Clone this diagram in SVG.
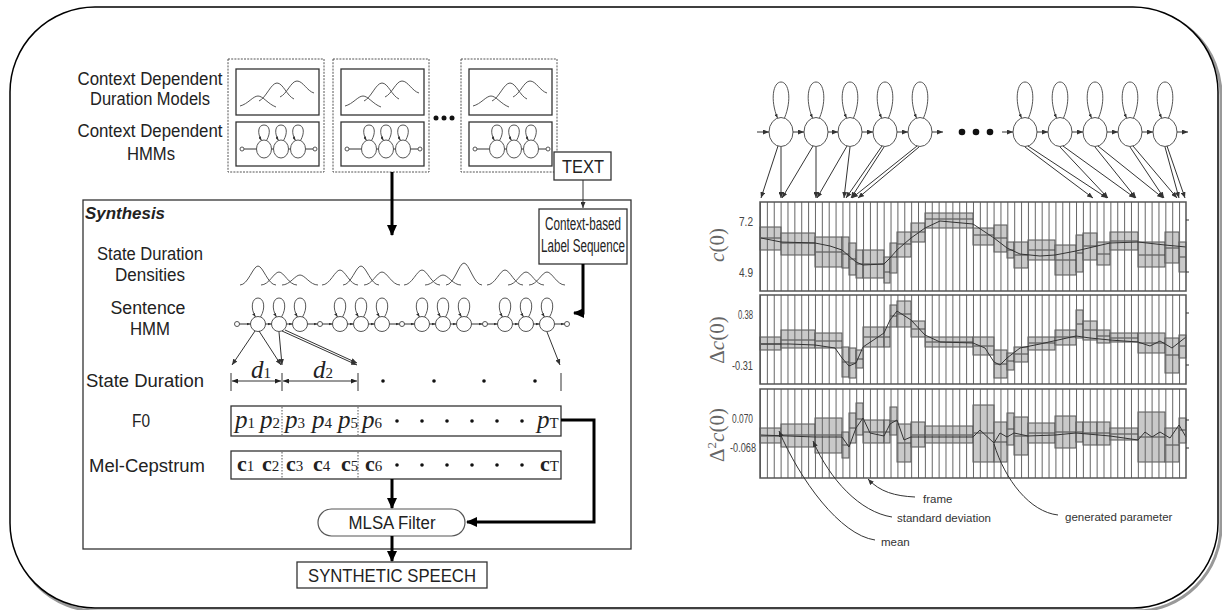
<svg xmlns="http://www.w3.org/2000/svg" width="1222" height="610" viewBox="0 0 1222 610">
<style>
.lab{font-family:"Liberation Sans",Arial,sans-serif;font-size:17.5px;fill:#222}
.syn{font-family:"Liberation Sans",Arial,sans-serif;font-size:17px;font-weight:bold;font-style:italic;fill:#222}
.mi{font-family:"Liberation Serif","Times New Roman",serif;font-style:italic;font-size:25px;fill:#222}
.mb{font-family:"Liberation Serif","Times New Roman",serif;font-weight:bold;font-size:22px;fill:#222}
.sub{font-style:normal;font-weight:normal;font-size:15px}
.tk{font-family:"Liberation Sans",Arial,sans-serif;font-size:12px;fill:#444}
.an{font-family:"Liberation Sans",Arial,sans-serif;font-size:11.5px;fill:#333}
.ax{font-family:"Liberation Serif","Times New Roman",serif;font-size:21px;fill:#666}
.thin{stroke:#333;stroke-width:1;fill:none}
.thick{stroke:#000;stroke-width:3;fill:none}
.box{fill:#fff;stroke:#333;stroke-width:1.3}
.dash{fill:none;stroke:#555;stroke-width:1;stroke-dasharray:2 1.2}
.node{fill:#fff;stroke:#555;stroke-width:1}
.loop{fill:none;stroke:#555;stroke-width:1}
.curve{fill:none;stroke:#555;stroke-width:1}
.sd{fill:#c9c9c9;stroke:#555;stroke-width:1}
.mean{stroke:#444;stroke-width:1;fill:none}
.gen{stroke:#333;stroke-width:1;fill:none;stroke-linejoin:round}
.frames{stroke:#666;fill:none;stroke-dasharray:1 5.87}
.panel{fill:none;stroke:#555;stroke-width:1.5}
.dot{fill:#111}
</style>
<defs>
<marker id="ms" viewBox="0 0 6 5" markerWidth="6" markerHeight="5" refX="6" refY="2.5" orient="auto" markerUnits="userSpaceOnUse"><path d="M0,0L6,2.5L0,5z" fill="#333"/></marker>
<marker id="md" viewBox="0 0 6 5" markerWidth="6" markerHeight="5" refX="6" refY="2.5" orient="auto-start-reverse" markerUnits="userSpaceOnUse"><path d="M0,0L6,2.5L0,5z" fill="#222"/></marker>
<marker id="mt" viewBox="0 0 4 3" markerWidth="4" markerHeight="3" refX="4" refY="1.5" orient="auto" markerUnits="userSpaceOnUse"><path d="M0,0L4,1.5L0,3z" fill="#333"/></marker>
<marker id="mb" viewBox="0 0 11 10" markerWidth="11" markerHeight="10" refX="10" refY="5" orient="auto" markerUnits="userSpaceOnUse"><path d="M0,0L11,5L0,10z" fill="#000"/></marker>
<g id="st1"><ellipse rx="7.5" ry="9" class="node"/><path class="loop" d="M2.5,-8.5C7,-16 6,-24 0,-24C-6,-24 -7,-16 -2.5,-8.5" marker-end="url(#mt)"/></g>
<g id="st2"><circle r="7.5" class="node"/><path class="loop" d="M2.5,-7C8,-16 6,-26 0,-26C-6,-26 -8,-16 -2.5,-7" marker-end="url(#mt)"/></g>
<g id="st3"><ellipse rx="12" ry="14.5" class="node"/><path class="loop" d="M3.5,-14C11,-32 8,-50 0,-50C-8,-50 -11,-32 -3.5,-14" marker-end="url(#mt)"/></g>
<g id="model">
<rect class="dash" x="228" y="59" width="96" height="113"/>
<rect class="box" x="236" y="69" width="83" height="46"/>
<path class="curve" d="M240,106C248,104 253,96 258,96C263,96 268,104 276,107"/>
<path class="curve" d="M259,101C266,98 271,83 277,83C283,83 287,96 294,99"/>
<path class="curve" d="M280,97C287,94 291,81 297,81C303,81 307,91 314,93"/>
<rect class="box" x="236" y="122" width="83" height="44"/>
<line class="thin" x1="244" y1="149" x2="313" y2="149"/>
<circle cx="242" cy="149" r="2" class="node"/><circle cx="315" cy="149" r="2" class="node"/>
<use href="#st1" x="264" y="149"/><use href="#st1" x="281" y="149"/><use href="#st1" x="298" y="149"/>
</g>
</defs>

<rect x="0" y="0" width="1222" height="610" fill="#fff"/>
<rect x="13" y="10" width="1208" height="601" rx="85" fill="none" stroke="#999" stroke-width="3"/>
<rect x="10" y="7" width="1208" height="601" rx="85" fill="#fff" stroke="#000" stroke-width="1.5"/>

<g id="labels-models">
<text class="lab" x="150" y="85" text-anchor="middle" textLength="145" lengthAdjust="spacingAndGlyphs">Context Dependent</text>
<text class="lab" x="150" y="105" text-anchor="middle" textLength="120" lengthAdjust="spacingAndGlyphs">Duration Models</text>
<text class="lab" x="150" y="137" text-anchor="middle" textLength="145" lengthAdjust="spacingAndGlyphs">Context Dependent</text>
<text class="lab" x="151" y="160" text-anchor="middle" textLength="48" lengthAdjust="spacingAndGlyphs">HMMs</text>
</g>
<g id="model-1"><use href="#model"/></g>
<g id="model-2"><use href="#model" x="105"/></g>
<g id="model-3"><use href="#model" x="233"/></g>
<g id="model-ellipsis"><circle class="dot" cx="436" cy="118" r="2.5"/><circle class="dot" cx="444" cy="118" r="2.5"/><circle class="dot" cx="452" cy="118" r="2.5"/></g>

<g id="text-node"><rect class="box" x="554" y="152" width="57" height="28"/>
<text class="lab" x="583" y="173" text-anchor="middle" textLength="42" lengthAdjust="spacingAndGlyphs">TEXT</text></g>

<g id="synthesis">
<rect x="83" y="200" width="548" height="349" fill="none" stroke="#333" stroke-width="1.3"/>
<text class="syn" x="85" y="219" textLength="80" lengthAdjust="spacingAndGlyphs">Synthesis</text>
<text class="lab" x="150" y="260" text-anchor="middle" textLength="106" lengthAdjust="spacingAndGlyphs">State Duration</text>
<text class="lab" x="150" y="281" text-anchor="middle" textLength="70" lengthAdjust="spacingAndGlyphs">Densities</text>
<text class="lab" x="148" y="314" text-anchor="middle" textLength="75" lengthAdjust="spacingAndGlyphs">Sentence</text>
<text class="lab" x="150" y="335" text-anchor="middle" textLength="40" lengthAdjust="spacingAndGlyphs">HMM</text>
<text class="lab" x="145" y="387" text-anchor="middle" textLength="118" lengthAdjust="spacingAndGlyphs">State Duration</text>
<text class="lab" x="141" y="427" text-anchor="middle" textLength="18" lengthAdjust="spacingAndGlyphs">F0</text>
<text class="lab" x="147" y="472" text-anchor="middle" textLength="116" lengthAdjust="spacingAndGlyphs">Mel-Cepstrum</text>
</g>

<g id="label-sequence"><rect class="box" x="539" y="209" width="88" height="55"/>
<text class="lab" x="583" y="230" text-anchor="middle" textLength="76" lengthAdjust="spacingAndGlyphs">Context-based</text>
<text class="lab" x="583" y="252" text-anchor="middle" textLength="84" lengthAdjust="spacingAndGlyphs">Label Sequence</text></g>

<g id="densities">
<path class="curve" d="M240,285C248,285 253,266 258,266C263,266 268,285 276,285"/>
<path class="curve" d="M261,285C269,285 274,272 279,272C284,272 289,285 297,285"/>
<path class="curve" d="M282,285C290,285 295,275 300,275C305,275 310,285 318,285"/>
<path class="curve" d="M322,285C330,285 335,270 340,270C345,270 350,285 358,285"/>
<path class="curve" d="M343,285C351,285 356,266 361,266C366,266 371,285 379,285"/>
<path class="curve" d="M364,285C372,285 377,272 382,272C387,272 392,285 400,285"/>
<path class="curve" d="M404,285C412,285 417,270 422,270C427,270 432,285 440,285"/>
<path class="curve" d="M425,285C433,285 438,275 443,275C448,275 453,285 461,285"/>
<path class="curve" d="M446,285C454,285 459,263 464,263C469,263 474,285 482,285"/>
<path class="curve" d="M487,285C495,285 500,270 505,270C510,270 515,285 523,285"/>
<path class="curve" d="M508,285C516,285 521,272 526,272C531,272 536,285 544,285"/>
<path class="curve" d="M529,285C537,285 542,272 547,272C552,272 557,285 565,285"/>
</g>

<g id="sentence-hmm">
<circle class="node" cx="237" cy="324" r="2.5"/><circle class="node" cx="320" cy="324" r="2.5"/><circle class="node" cx="402" cy="324" r="2.5"/><circle class="node" cx="485" cy="324" r="2.5"/><circle class="node" cx="567" cy="324" r="2.5"/>
<use href="#st2" x="258" y="324"/><use href="#st2" x="279" y="324"/><use href="#st2" x="300" y="324"/>
<use href="#st2" x="340" y="324"/><use href="#st2" x="361" y="324"/><use href="#st2" x="382" y="324"/>
<use href="#st2" x="422" y="324"/><use href="#st2" x="443" y="324"/><use href="#st2" x="464" y="324"/>
<use href="#st2" x="505" y="324"/><use href="#st2" x="526" y="324"/><use href="#st2" x="547" y="324"/>
</g>

<g id="duration-row">
<path class="thin" d="M231,373V391M282,373V391M358,373V391M561,373V391"/>
<text class="mi" x="251" y="378" font-size="22">d<tspan class="sub" font-size="14">1</tspan></text>
<text class="mi" x="313" y="378" font-size="22">d<tspan class="sub" font-size="14">2</tspan></text>
<circle class="dot" cx="383" cy="381" r="1.8"/><circle class="dot" cx="434" cy="381" r="1.8"/><circle class="dot" cx="484" cy="381" r="1.8"/><circle class="dot" cx="535" cy="381" r="1.8"/>
</g>

<g id="f0-row">
<rect class="box" x="231" y="406" width="330" height="30"/>
<path d="M282,407V435M358,407V435" stroke="#555" stroke-dasharray="1.5 1.5"/>
<text class="mi" x="235" y="428">p<tspan class="sub">1</tspan></text>
<text class="mi" x="260" y="428">p<tspan class="sub">2</tspan></text>
<text class="mi" x="285" y="428">p<tspan class="sub">3</tspan></text>
<text class="mi" x="312" y="428">p<tspan class="sub">4</tspan></text>
<text class="mi" x="338" y="428">p<tspan class="sub">5</tspan></text>
<text class="mi" x="362" y="428">p<tspan class="sub">6</tspan></text>
<text class="mi" x="537" y="428">p<tspan class="sub">T</tspan></text>
<circle class="dot" cx="397" cy="421" r="1.8"/><circle class="dot" cx="422" cy="421" r="1.8"/><circle class="dot" cx="447" cy="421" r="1.8"/><circle class="dot" cx="472" cy="421" r="1.8"/><circle class="dot" cx="497" cy="421" r="1.8"/><circle class="dot" cx="522" cy="421" r="1.8"/>
</g>

<g id="mcep-row">
<rect class="box" x="231" y="451" width="330" height="28"/>
<path d="M282,452V478M358,452V478" stroke="#555" stroke-dasharray="1.5 1.5"/>
<text class="mb" x="237" y="471">c<tspan class="sub" font-size="14">1</tspan></text>
<text class="mb" x="262" y="471">c<tspan class="sub" font-size="14">2</tspan></text>
<text class="mb" x="286" y="471">c<tspan class="sub" font-size="14">3</tspan></text>
<text class="mb" x="313" y="471">c<tspan class="sub" font-size="14">4</tspan></text>
<text class="mb" x="341" y="471">c<tspan class="sub" font-size="14">5</tspan></text>
<text class="mb" x="365" y="471">c<tspan class="sub" font-size="14">6</tspan></text>
<text class="mb" x="540" y="471">c<tspan class="sub" font-size="14">T</tspan></text>
<circle class="dot" cx="397" cy="465" r="1.8"/><circle class="dot" cx="422" cy="465" r="1.8"/><circle class="dot" cx="447" cy="465" r="1.8"/><circle class="dot" cx="472" cy="465" r="1.8"/><circle class="dot" cx="497" cy="465" r="1.8"/><circle class="dot" cx="522" cy="465" r="1.8"/>
</g>

<g id="mlsa"><rect x="318" y="509" width="147" height="27" rx="13.5" fill="#fff" stroke="#555" stroke-width="1.2"/>
<text class="lab" x="392" y="529" text-anchor="middle" textLength="87" lengthAdjust="spacingAndGlyphs">MLSA Filter</text></g>

<g id="speech"><rect class="box" x="297" y="562" width="190" height="26"/>
<text class="lab" x="392" y="582" text-anchor="middle" textLength="168" lengthAdjust="spacingAndGlyphs">SYNTHETIC SPEECH</text></g>

<g id="right-hmm">
<use href="#st3" x="781" y="132"/><use href="#st3" x="816" y="132"/><use href="#st3" x="850" y="132"/><use href="#st3" x="885" y="132"/><use href="#st3" x="920" y="132"/>
<use href="#st3" x="1025" y="132"/><use href="#st3" x="1060" y="132"/><use href="#st3" x="1095" y="132"/><use href="#st3" x="1130" y="132"/><use href="#st3" x="1165" y="132"/>
<circle class="dot" cx="962" cy="132" r="3.3"/><circle class="dot" cx="976" cy="132" r="3.3"/><circle class="dot" cx="990" cy="132" r="3.3"/>
</g>

<g id="panel-c0">
<rect class="sd" x="760" y="227" width="21" height="23"/><rect class="sd" x="781" y="233" width="34" height="22"/><rect class="sd" x="815" y="237" width="27" height="30"/><rect class="sd" x="842" y="237" width="7" height="31"/><rect class="sd" x="849" y="243" width="7" height="32"/><rect class="sd" x="856" y="250" width="7" height="28"/><rect class="sd" x="863" y="250" width="21" height="28"/><rect class="sd" x="884" y="257" width="6" height="26"/><rect class="sd" x="890" y="243" width="7" height="30"/><rect class="sd" x="897" y="232" width="14" height="25"/><rect class="sd" x="911" y="223" width="14" height="19"/><rect class="sd" x="925" y="213" width="48" height="15"/><rect class="sd" x="973" y="228" width="21" height="17"/><rect class="sd" x="994" y="225" width="13" height="27"/><rect class="sd" x="1007" y="242" width="7" height="16"/><rect class="sd" x="1014" y="242" width="14" height="26"/><rect class="sd" x="1028" y="240" width="27" height="20"/><rect class="sd" x="1055" y="245" width="21" height="30"/><rect class="sd" x="1076" y="235" width="7" height="37"/><rect class="sd" x="1083" y="233" width="14" height="27"/><rect class="sd" x="1097" y="242" width="13" height="23"/><rect class="sd" x="1110" y="232" width="28" height="18"/><rect class="sd" x="1138" y="242" width="27" height="25"/><rect class="sd" x="1165" y="232" width="14" height="31"/><rect class="sd" x="1179" y="242" width="7" height="30"/>
<path class="mean" d="M760,238H781M781,243H815M815,252H842M842,254H849M849,259H856M856,264H884M884,272H890M890,257H897M897,244H911M911,232H925M925,219H973M973,235H994M994,238H1007M1007,250H1014M1014,255H1028M1028,250H1055M1055,260H1076M1076,253H1083M1083,246H1097M1097,254H1110M1110,241H1138M1138,255H1165M1165,248H1179M1179,257H1186"/>
<line class="frames" x1="760" y1="246.5" x2="1186" y2="246.5" stroke-width="89"/>
<path class="gen" d="M761,238L781,242L815,243L830,246L842,250L849,256L856,262L863,265L884,264L890,258L897,250L911,238L925,228L940,221L973,224L985,232L994,238L1007,248L1020,254L1040,256L1055,255L1076,251L1097,246L1110,243L1138,242L1165,245L1186,247"/>
<rect class="panel" x="760" y="202" width="426" height="89"/>
<path class="thin" d="M1186,220h3M1186,272h3"/>
<text class="tk" x="753" y="226" text-anchor="end" textLength="14" lengthAdjust="spacingAndGlyphs">7.2</text>
<text class="tk" x="753" y="277" text-anchor="end" textLength="14" lengthAdjust="spacingAndGlyphs">4.9</text>
<text class="ax" transform="translate(724,245) rotate(-90)" text-anchor="middle"><tspan font-style="italic">c</tspan>(0)</text>
</g>

<g id="panel-dc0">
<rect class="sd" x="760" y="337" width="21" height="13"/><rect class="sd" x="781" y="330" width="34" height="18"/><rect class="sd" x="815" y="333" width="27" height="15"/><rect class="sd" x="842" y="347" width="7" height="30"/><rect class="sd" x="849" y="348" width="7" height="30"/><rect class="sd" x="856" y="350" width="7" height="18"/><rect class="sd" x="863" y="327" width="21" height="20"/><rect class="sd" x="884" y="327" width="6" height="20"/><rect class="sd" x="890" y="305" width="7" height="22"/><rect class="sd" x="897" y="301" width="14" height="26"/><rect class="sd" x="911" y="321" width="14" height="16"/><rect class="sd" x="925" y="337" width="48" height="10"/><rect class="sd" x="973" y="337" width="21" height="18"/><rect class="sd" x="994" y="350" width="13" height="28"/><rect class="sd" x="1007" y="353" width="7" height="17"/><rect class="sd" x="1014" y="347" width="14" height="15"/><rect class="sd" x="1028" y="337" width="27" height="13"/><rect class="sd" x="1055" y="330" width="21" height="15"/><rect class="sd" x="1076" y="310" width="7" height="28"/><rect class="sd" x="1083" y="321" width="14" height="19"/><rect class="sd" x="1097" y="330" width="13" height="13"/><rect class="sd" x="1110" y="333" width="28" height="9"/><rect class="sd" x="1138" y="333" width="27" height="20"/><rect class="sd" x="1165" y="338" width="14" height="35"/><rect class="sd" x="1179" y="335" width="7" height="23"/>
<path class="mean" d="M760,344H781M781,340H815M815,341H842M842,362H849M849,363H856M856,359H863M863,337H890M890,316H897M897,314H911M911,329H925M925,342H973M973,346H994M994,364H1007M1007,361H1014M1014,354H1028M1028,343H1055M1055,337H1076M1076,324H1083M1083,330H1097M1097,336H1110M1110,338H1138M1138,343H1165M1165,355H1179M1179,346H1186"/>
<line class="frames" x1="760" y1="339.5" x2="1186" y2="339.5" stroke-width="89"/>
<path class="gen" d="M761,344L790,344L815,345L835,348L842,358L849,366L856,363L863,347L884,333L890,320L897,311L911,320L925,335L940,342L973,343L985,348L994,362L1000,365L1007,358L1020,348L1040,344L1076,336L1090,338L1110,340L1138,342L1150,346L1160,341L1172,348L1186,337"/>
<rect class="panel" x="760" y="295" width="426" height="89"/>
<path class="thin" d="M1186,313h3M1186,365h3"/>
<text class="tk" x="753" y="319" text-anchor="end" textLength="15" lengthAdjust="spacingAndGlyphs">0.38</text>
<text class="tk" x="753" y="370" text-anchor="end" textLength="21" lengthAdjust="spacingAndGlyphs">-0.31</text>
<text class="ax" transform="translate(724,340) rotate(-90)" text-anchor="middle">Δ<tspan font-style="italic">c</tspan>(0)</text>
</g>

<g id="panel-ddc0">
<rect class="sd" x="760" y="428" width="21" height="15"/><rect class="sd" x="781" y="424" width="34" height="23"/><rect class="sd" x="815" y="418" width="27" height="35"/><rect class="sd" x="842" y="432" width="7" height="26"/><rect class="sd" x="849" y="413" width="7" height="30"/><rect class="sd" x="856" y="403" width="7" height="32"/><rect class="sd" x="863" y="420" width="21" height="23"/><rect class="sd" x="884" y="420" width="6" height="23"/><rect class="sd" x="890" y="407" width="7" height="28"/><rect class="sd" x="897" y="424" width="14" height="38"/><rect class="sd" x="911" y="422" width="14" height="25"/><rect class="sd" x="925" y="426" width="48" height="17"/><rect class="sd" x="973" y="405" width="21" height="57"/><rect class="sd" x="994" y="422" width="13" height="40"/><rect class="sd" x="1007" y="413" width="7" height="32"/><rect class="sd" x="1014" y="417" width="14" height="38"/><rect class="sd" x="1028" y="423" width="27" height="20"/><rect class="sd" x="1055" y="416" width="21" height="32"/><rect class="sd" x="1076" y="422" width="7" height="20"/><rect class="sd" x="1083" y="422" width="14" height="23"/><rect class="sd" x="1097" y="422" width="13" height="23"/><rect class="sd" x="1110" y="428" width="28" height="12"/><rect class="sd" x="1138" y="412" width="27" height="50"/><rect class="sd" x="1165" y="428" width="14" height="34"/><rect class="sd" x="1179" y="418" width="7" height="25"/>
<path class="mean" d="M760,436H781M781,435H815M815,435H842M842,445H849M849,428H856M856,419H863M863,432H890M890,421H897M897,443H911M911,435H925M925,435H973M973,433H994M994,442H1007M1007,429H1014M1014,436H1028M1028,433H1055M1055,432H1076M1076,432H1083M1083,433H1110M1110,434H1138M1138,437H1165M1165,445H1179M1179,430H1186"/>
<line class="frames" x1="760" y1="433.5" x2="1186" y2="433.5" stroke-width="89"/>
<path class="gen" d="M761,435L815,437L842,437L849,447L856,428L863,418L870,433L884,436L890,424L897,420L904,440L911,437L925,437L973,437L980,430L994,443L1000,433L1007,437L1014,433L1028,436L1055,435L1076,433L1110,436L1138,440L1145,432L1152,437L1160,432L1170,438L1179,425L1186,437"/>
<rect class="panel" x="760" y="389" width="426" height="89"/>
<path class="thin" d="M1186,420h3M1186,448h3"/>
<text class="tk" x="753" y="423" text-anchor="end" textLength="21" lengthAdjust="spacingAndGlyphs">0.070</text>
<text class="tk" x="756" y="452" text-anchor="end" textLength="26" lengthAdjust="spacingAndGlyphs">-0.068</text>
<text class="ax" transform="translate(724,435) rotate(-90)" text-anchor="middle">Δ<tspan font-size="13" dy="-8">2</tspan><tspan font-style="italic" dy="8">c</tspan>(0)</text>
</g>

<g id="annotations">
<text class="an" x="923" y="503">frame</text>
<text class="an" x="897" y="522">standard deviation</text>
<text class="an" x="1065" y="521">generated parameter</text>
<text class="an" x="881" y="546">mean</text>
</g>

<g id="connectors">
<line class="thick" x1="392" y1="172" x2="392" y2="235" marker-end="url(#mb)"/>
<line class="thin" x1="583" y1="180" x2="583" y2="208" stroke-width="1.3" marker-end="url(#ms)"/>
<path class="thick" d="M583,264V313H574" marker-end="url(#mb)"/>
<path class="thick" d="M561,420H594V522H467" marker-end="url(#mb)"/>
<line class="thick" x1="392" y1="479" x2="392" y2="508" marker-end="url(#mb)"/>
<line class="thick" x1="392" y1="536" x2="392" y2="561" marker-end="url(#mb)"/>
<g marker-end="url(#mt)" class="thin">
<line x1="239.5" y1="324" x2="250.5" y2="324"/><line x1="265.5" y1="324" x2="271.5" y2="324"/><line x1="286.5" y1="324" x2="292.5" y2="324"/><line x1="307.5" y1="324" x2="317.5" y2="324"/>
<line x1="322.5" y1="324" x2="332.5" y2="324"/><line x1="347.5" y1="324" x2="353.5" y2="324"/><line x1="368.5" y1="324" x2="374.5" y2="324"/><line x1="389.5" y1="324" x2="399.5" y2="324"/>
<line x1="404.5" y1="324" x2="414.5" y2="324"/><line x1="429.5" y1="324" x2="435.5" y2="324"/><line x1="450.5" y1="324" x2="456.5" y2="324"/><line x1="471.5" y1="324" x2="482.5" y2="324"/>
<line x1="487.5" y1="324" x2="497.5" y2="324"/><line x1="512.5" y1="324" x2="518.5" y2="324"/><line x1="533.5" y1="324" x2="539.5" y2="324"/><line x1="554.5" y1="324" x2="564.5" y2="324"/>
</g>
<g marker-end="url(#ms)" class="thin">
<line x1="255" y1="331" x2="232" y2="365"/><line x1="259" y1="331" x2="281" y2="365"/><line x1="279" y1="332" x2="282" y2="365"/>
<line x1="282" y1="331" x2="357" y2="365"/><line x1="285" y1="330" x2="357" y2="363"/><line x1="547" y1="332" x2="560" y2="365"/>
</g>
<line class="thin" x1="232" y1="381" x2="281" y2="381" marker-start="url(#md)" marker-end="url(#md)"/>
<line class="thin" x1="283" y1="381" x2="357" y2="381" marker-start="url(#md)" marker-end="url(#md)"/>
<g marker-end="url(#ms)" class="thin">
<line x1="757" y1="132" x2="769" y2="132"/><line x1="793" y1="132" x2="804" y2="132"/><line x1="828" y1="132" x2="838" y2="132"/><line x1="862" y1="132" x2="873" y2="132"/><line x1="897" y1="132" x2="908" y2="132"/><line x1="932" y1="132" x2="943" y2="132"/>
<line x1="1002" y1="132" x2="1013" y2="132"/><line x1="1037" y1="132" x2="1048" y2="132"/><line x1="1072" y1="132" x2="1083" y2="132"/><line x1="1107" y1="132" x2="1118" y2="132"/><line x1="1142" y1="132" x2="1153" y2="132"/><line x1="1177" y1="132" x2="1188" y2="132"/>
</g>
<g marker-end="url(#ms)" class="thin" stroke="#444">
<line x1="778" y1="146" x2="761" y2="198"/><line x1="781" y1="147" x2="781" y2="198"/>
<line x1="813" y1="146" x2="782" y2="198"/><line x1="816" y1="147" x2="816" y2="198"/>
<line x1="847" y1="146" x2="817" y2="198"/><line x1="850" y1="147" x2="844" y2="198"/>
<line x1="882" y1="146" x2="846" y2="198"/><line x1="884" y1="147" x2="851" y2="198"/>
<line x1="917" y1="146" x2="852" y2="198"/><line x1="919" y1="147" x2="858" y2="198"/>
<line x1="1025" y1="147" x2="1093" y2="198"/><line x1="1028" y1="146" x2="1107" y2="198"/>
<line x1="1060" y1="147" x2="1108" y2="198"/><line x1="1063" y1="146" x2="1135" y2="198"/>
<line x1="1095" y1="147" x2="1136" y2="198"/><line x1="1098" y1="146" x2="1163" y2="198"/>
<line x1="1130" y1="147" x2="1164" y2="198"/><line x1="1133" y1="146" x2="1177" y2="198"/>
<line x1="1165" y1="147" x2="1179" y2="198"/><line x1="1167" y1="146" x2="1185" y2="198"/>
</g>
<path class="thin" d="M875,540C840,535 800,480 779,431" marker-end="url(#ms)"/>
<path class="thin" d="M892,517C860,512 830,480 813,441" marker-end="url(#ms)"/>
<path class="thin" d="M915,497C895,496 880,492 868,479" marker-end="url(#ms)"/>
<path class="thin" d="M1058,515C1030,512 1005,480 994,444"/>
</g>
</svg>
